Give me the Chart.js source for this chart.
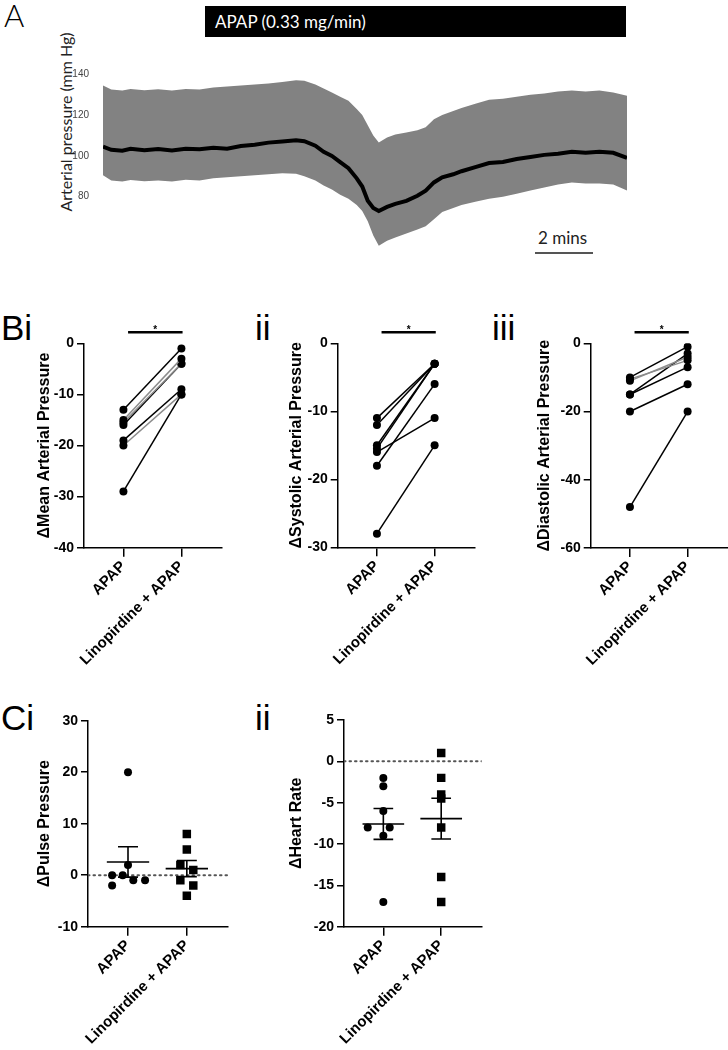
<!DOCTYPE html>
<html>
<head>
<meta charset="utf-8">
<script src="https://cdn.jsdelivr.net/npm/chart.js@4.4.1/dist/chart.umd.min.js"></script>
<style>
  body { margin: 0; background: #fff; }
  #fig { position: relative; width: 728px; height: 1050px; overflow: hidden; font-family: "Liberation Sans", Arial, sans-serif; }
  #fig canvas { position: absolute; }
  .lbl { position: absolute; font-size: 35px; line-height: 1; color: #000; }
  .lato { font-family: Lato, "Open Sans", sans-serif; }
</style>
</head>
<body>
<div id="fig">
  <!-- panel A decorations -->
  <div class="lbl lato" style="left:4px; top:0px; font-size:31px; font-weight:300;">A</div>
  <div class="lato" style="position:absolute; left:205px; top:6px; width:421px; height:31px; background:#000; color:#fff; font-size:17px; line-height:31px; padding-left:10px; box-sizing:border-box;">APAP (0.33 mg/min)</div>
  <div class="lato" style="position:absolute; left:-44px; top:112px; width:220px; height:20px; line-height:20px; text-align:center; font-size:16px; color:#222; transform:rotate(-90deg);">Arterial pressure (mm Hg)</div>
  <div class="lato" style="position:absolute; left:538px; top:228px; font-size:17px; line-height:20px; color:#222;">2 mins</div>
  <div style="position:absolute; left:535px; top:252px; width:58px; height:2px; background:#555;"></div>

  <div class="lbl" style="left:1px; top:310px;">Bi</div>
  <div class="lbl" style="left:255px; top:310px;">ii</div>
  <div class="lbl" style="left:492px; top:310px;">iii</div>
  <div class="lbl" style="left:1px; top:700px;">Ci</div>
  <div class="lbl" style="left:255px; top:700px;">ii</div>

  <canvas id="cA"></canvas>
  <canvas id="cBi"></canvas>
  <canvas id="cBii"></canvas>
  <canvas id="cBiii"></canvas>
  <canvas id="cCi"></canvas>
  <canvas id="cCii"></canvas>
</div>
<script>
// ---- data ----
var GROUPS = ['APAP', 'Linopirdine + APAP'];

// A: mean arterial pressure trace (min, mm Hg)
var traceTime  = [0, 0.3, 0.7, 1.0, 1.5, 2.0, 2.5, 3.0, 3.5, 4.0, 4.5, 5.0, 5.5, 6.0, 6.5, 7.0, 7.3, 7.7, 8.0, 8.3, 8.6, 8.9, 9.2, 9.4, 9.6, 9.8, 10.0, 10.3, 10.6, 11.0, 11.4, 11.7, 12.0, 12.3, 12.7, 13.0, 13.5, 14.0, 14.5, 15.0, 15.5, 16.0, 16.5, 17.0, 17.5, 18.0, 18.5, 19.0];
var traceMean  = [104.5, 103, 102.5, 103.5, 102.8, 103.4, 102.6, 103.5, 103.2, 104, 103.5, 104.8, 105.5, 106.5, 107, 107.6, 107.2, 105, 102, 100, 97, 94, 89, 85, 78, 74.5, 73, 75, 76.5, 78, 80.5, 83, 87, 89.5, 91, 92.5, 94.5, 96.5, 97, 98.5, 99.5, 100.5, 101, 102, 101.5, 102, 101.5, 99];
var traceUpper = [134.5, 132.5, 132, 132.8, 132.2, 132.6, 132, 132.8, 132.5, 133.5, 134, 134.5, 135, 135.5, 136.2, 137, 136.8, 135, 133, 131, 129, 127, 123, 120, 115, 110, 106.5, 109, 110.5, 111.5, 112.5, 114, 118, 120, 122, 123.5, 125.5, 127.5, 128, 129, 130, 130.5, 131.5, 132, 131.5, 132, 131, 129.5];
var traceLower = [90.5, 88, 87.5, 88.2, 87.6, 88, 87.5, 88.3, 88, 89, 89.5, 90, 90.5, 91, 91.5, 91.2, 90, 88, 85.5, 83.5, 81, 79, 76, 73, 68, 61, 56, 58.5, 60, 62, 64, 65.5, 69, 72.5, 74.5, 76, 77.5, 79, 80, 81.5, 83, 84.5, 86, 87, 86.5, 86.5, 86, 83];
var traceTicks = [80, 100, 120, 140];

// B: paired changes (same animal, APAP then linopirdine + APAP)
var mapApap  = [-13, -15, -15.5, -16, -19, -20, -29];
var mapLino  = [-1, -3, -4, -4, -9, -10, -10];
var sysApap  = [-11, -12, -15, -15.5, -16, -18, -28];
var sysLino  = [-3, -3, -3, -3, -11, -6, -15];
var diaApap  = [-10, -10.5, -11, -15, -15, -20, -48];
var diaLino  = [-1, -5, -4, -3, -7, -12, -20];

// C: individual changes
var pulseApap = [20, 2, 0, 0, -2, -1, -1];
var pulseLino = [8, 5, 2, 1, -1, -2, -4];
var hrApap    = [-2, -3, -6, -8, -8, -9, -17];
var hrLino    = [1, -2, -4, -4.5, -8, -14, -17];
// horizontal scatter offsets (category units)
var pulseApapJit = [0, 0, -0.27, -0.09, -0.27, 0.09, 0.29];
var pulseLinoJit = [0, 0, -0.11, 0.11, -0.11, 0.11, 0];
var hrApapJit    = [0, 0, 0, -0.27, 0.11, 0, 0];
var hrLinoJit    = [0, 0, 0, 0, 0, 0, 0];

// ---- layout ----
var X_MIN = 0.32, X_MAX = 2.7;
var FONT = '"Liberation Sans", Arial, sans-serif';
Chart.defaults.font.family = FONT;
Chart.defaults.color = '#000';

function place(canvas, box) {
    var L = Math.round(box.titleX - 9.6);
    var T = Math.round(box.top) - 32;
    canvas.style.left = L + 'px';
    canvas.style.top = T + 'px';
    canvas.width = Math.ceil(box.right - L) + 2;
    canvas.height = Math.round(box.bottom - T) + 118;
    return { L: L, T: T, W: canvas.width, H: canvas.height };
}

function axes(box, p, yMin, yMax, yStep, title) {
    return {
        x: {
            type: 'linear', min: X_MIN, max: X_MAX,
            afterBuildTicks: function (s) { s.ticks = [{ value: 1 }, { value: 2 }]; },
            afterFit: function (s) { s.height = p.H - (box.bottom - p.T); },
            grid: { drawOnChartArea: false, drawTicks: true, tickLength: 9, lineWidth: 1.5, color: '#000' },
            border: { display: true, color: '#000', width: 1.5 },
            ticks: {
                autoSkip: false, maxRotation: 45, minRotation: 45, padding: 1,
                font: { size: 15, weight: 'bold' }, color: '#000',
                callback: function (v) { return GROUPS[v - 1]; }
            }
        },
        y: {
            min: yMin, max: yMax,
            afterFit: function (s) { s.width = box.left - p.L; },
            grid: { drawOnChartArea: false, drawTicks: true, tickLength: 7, lineWidth: 1.5, color: '#000' },
            border: { display: true, color: '#000', width: 1.5 },
            ticks: { stepSize: yStep, padding: 3, font: { size: 14, weight: 'bold' }, color: '#000' },
            title: { display: true, text: title, padding: 0, font: { size: 16, weight: 'bold' }, color: '#000' }
        }
    };
}

function baseOptions(box, p) {
    return {
        animation: false, responsive: false, events: [],
        layout: { autoPadding: false, padding: { left: 0, top: box.top - p.T, right: p.W - (box.right - p.L), bottom: 0 } },
        plugins: { legend: { display: false }, tooltip: { enabled: false } }
    };
}

var sigBar = {
    id: 'sigBar',
    afterDraw: function (chart) {
        var x = chart.scales.x, ctx = chart.ctx, y = chart.chartArea.top - 11;
        var x0 = x.getPixelForValue(1.08), x1 = x.getPixelForValue(2.02);
        ctx.save();
        ctx.strokeStyle = '#000';
        ctx.lineWidth = 2.5;
        ctx.beginPath(); ctx.moveTo(x0, y); ctx.lineTo(x1, y); ctx.stroke();
        ctx.fillStyle = '#000';
        ctx.font = 'bold 10px ' + FONT;
        ctx.textAlign = 'center';
        ctx.textBaseline = 'alphabetic';
        ctx.fillText('*', (x0 + x1) / 2, y + 1);
        ctx.restore();
    }
};

function pairChart(id, box, apap, lino, grey, yMin, yMax, yStep, title) {
    var canvas = document.getElementById(id);
    var p = place(canvas, box);
    var datasets = apap.map(function (a, i) {
        return {
            data: [{ x: 1, y: a }, { x: 2, y: lino[i] }],
            borderColor: grey.indexOf(i) >= 0 ? '#8c8c8c' : '#000',
            borderWidth: 1.5, pointRadius: 4,
            pointBackgroundColor: '#000', pointBorderColor: '#000', pointBorderWidth: 0
        };
    });
    var opts = baseOptions(box, p);
    opts.scales = axes(box, p, yMin, yMax, yStep, title);
    new Chart(canvas, { type: 'line', data: { datasets: datasets }, options: opts, plugins: [sigBar] });
}

function meanSem(vals) {
    var n = vals.length, m = 0, ss = 0;
    vals.forEach(function (v) { m += v; });
    m /= n;
    vals.forEach(function (v) { ss += (v - m) * (v - m); });
    return { mean: m, sem: Math.sqrt(ss / (n - 1)) / Math.sqrt(n) };
}

function errBars(groups) {
    return {
        id: 'errBars',
        afterDatasetsDraw: function (chart) {
            var xs = chart.scales.x, ys = chart.scales.y, ctx = chart.ctx;
            ctx.save();
            ctx.strokeStyle = '#000';
            ctx.lineWidth = 1.6;
            groups.forEach(function (vals, gi) {
                var st = meanSem(vals), c = gi + 1;
                var yM = ys.getPixelForValue(st.mean);
                var yT = ys.getPixelForValue(st.mean + st.sem);
                var yB = ys.getPixelForValue(st.mean - st.sem);
                var xc = xs.getPixelForValue(c);
                ctx.beginPath();
                ctx.moveTo(xs.getPixelForValue(c - 0.36), yM); ctx.lineTo(xs.getPixelForValue(c + 0.36), yM);
                ctx.moveTo(xc, yT); ctx.lineTo(xc, yB);
                ctx.moveTo(xs.getPixelForValue(c - 0.17), yT); ctx.lineTo(xs.getPixelForValue(c + 0.17), yT);
                ctx.moveTo(xs.getPixelForValue(c - 0.17), yB); ctx.lineTo(xs.getPixelForValue(c + 0.17), yB);
                ctx.stroke();
            });
            ctx.restore();
        }
    };
}

function scatterChart(id, box, apap, apapJit, lino, linoJit, yMin, yMax, yStep, title) {
    var canvas = document.getElementById(id);
    var p = place(canvas, box);
    var opts = baseOptions(box, p);
    opts.scales = axes(box, p, yMin, yMax, yStep, title);
    new Chart(canvas, {
        type: 'scatter',
        data: {
            datasets: [
                {
                    data: apap.map(function (v, i) { return { x: 1 + apapJit[i], y: v }; }),
                    pointStyle: 'circle', pointRadius: 4,
                    pointBackgroundColor: '#000', pointBorderColor: '#000', pointBorderWidth: 0
                },
                {
                    data: lino.map(function (v, i) { return { x: 2 + linoJit[i], y: v }; }),
                    pointStyle: 'rect', pointRadius: 6,
                    pointBackgroundColor: '#000', pointBorderColor: '#000', pointBorderWidth: 0
                },
                {
                    type: 'line',
                    data: [{ x: X_MIN, y: 0 }, { x: X_MAX, y: 0 }],
                    showLine: true, pointRadius: 0,
                    borderColor: '#555', borderWidth: 2, borderDash: [1.5, 4], borderCapStyle: 'round'
                }
            ]
        },
        options: opts,
        plugins: [errBars([apap, lino])]
    });
}

// ---- panel A ----
(function () {
    var canvas = document.getElementById('cA');
    canvas.style.left = '0px';
    canvas.style.top = '0px';
    canvas.width = 728;
    canvas.height = 270;
    function pts(vals) { return traceTime.map(function (t, i) { return { x: t, y: vals[i] }; }); }
    new Chart(canvas, {
        type: 'line',
        data: {
            datasets: [
                { data: pts(traceMean), borderColor: '#000', borderWidth: 4, pointRadius: 0, fill: false },
                { data: pts(traceUpper), borderColor: 'rgba(0,0,0,0)', borderWidth: 0, pointRadius: 0, backgroundColor: '#828282', fill: '+1' },
                { data: pts(traceLower), borderColor: 'rgba(0,0,0,0)', borderWidth: 0, pointRadius: 0, fill: false }
            ]
        },
        options: {
            animation: false, responsive: false, events: [],
            layout: { autoPadding: false, padding: { left: 0, top: 64, right: 101, bottom: 8 } },
            plugins: { legend: { display: false }, tooltip: { enabled: false } },
            scales: {
                x: { type: 'linear', min: 0, max: 19, display: false },
                y: {
                    min: 50, max: 145,
                    afterBuildTicks: function (s) { s.ticks = traceTicks.map(function (v) { return { value: v }; }); },
                    afterFit: function (s) { s.width = 103; },
                    grid: { display: false },
                    border: { display: false },
                    ticks: { padding: 6, font: { size: 10 }, color: '#444' }
                }
            }
        }
    });
})();

// ---- panels B and C ----
pairChart('cBi',   { left: 84,    right: 222, top: 343.3, bottom: 547.7, titleX: 45 },  mapApap, mapLino, [1, 2, 5], -40, 0, 10, 'ΔMean Arterial Pressure');
pairChart('cBii',  { left: 337.7, right: 475, top: 343.3, bottom: 547.3, titleX: 297 }, sysApap, sysLino, [],        -30, 0, 10, 'ΔSystolic Arterial Pressure');
pairChart('cBiii', { left: 590.7, right: 728, top: 343.3, bottom: 548,   titleX: 545 }, diaApap, diaLino, [1, 2],    -60, 0, 20, 'ΔDiastolic Arterial Pressure');

scatterChart('cCi',  { left: 88,  right: 228,   top: 720.7, bottom: 926.7, titleX: 45 },  pulseApap, pulseApapJit, pulseLino, pulseLinoJit, -10, 30, 10, 'ΔPulse Pressure');
scatterChart('cCii', { left: 344, right: 481.7, top: 720,   bottom: 926.7, titleX: 297 }, hrApap, hrApapJit, hrLino, hrLinoJit, -20, 5, 5, 'ΔHeart Rate');
</script>
</body>
</html>
